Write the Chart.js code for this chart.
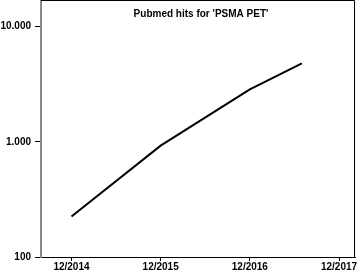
<!DOCTYPE html>
<html>
<head>
<meta charset="utf-8">
<script src="https://cdn.jsdelivr.net/npm/chart.js@4/dist/chart.umd.min.js"></script>
<style>
  html, body { margin: 0; padding: 0; background: #fff; }
  #wrap { width: 357px; height: 273px; }
</style>
</head>
<body>
<div id="wrap"><canvas id="chart" width="357" height="273"></canvas></div>
<script>
// months counted from 12/2014
const months = [0, 12, 24, 31];
const hits = [225, 925, 2850, 4800];

const xTickValues = [0, 12, 24, 36];
const xTickLabels = ['12/2014', '12/2015', '12/2016', '12/2017'];
const yTickValues = [100, 1000, 10000];
const yTickLabels = ['100', '1.000', '10.000'];

const chartTitle = "Pubmed hits for 'PSMA PET'";
const font = { family: 'Liberation Sans, Arial, sans-serif', size: 10, weight: 'bold' };

// title inside the plot + top/right frame lines
const framePlugin = {
    id: 'frame',
    afterDraw(chart) {
        const ctx = chart.ctx;
        const a = chart.chartArea;
        ctx.save();
        ctx.strokeStyle = '#000';
        ctx.lineWidth = 1;
        ctx.beginPath();
        ctx.moveTo(a.left, a.top + 0.5);
        ctx.lineTo(a.right - 0.5, a.top + 0.5);
        ctx.lineTo(a.right - 0.5, a.bottom);
        ctx.stroke();

        ctx.fillStyle = '#000';
        ctx.font = 'bold 10px Liberation Sans, Arial, sans-serif';
        ctx.textAlign = 'center';
        ctx.textBaseline = 'middle';
        ctx.fillText(chartTitle, 201, 14);
        ctx.restore();
    }
};

new Chart(document.getElementById('chart'), {
    type: 'line',
    data: {
        datasets: [{
            data: months.map((m, i) => ({ x: m, y: hits[i] })),
            borderColor: '#000',
            borderWidth: 2,
            pointRadius: 0,
            fill: false,
            tension: 0
        }]
    },
    options: {
        responsive: false,
        animation: false,
        layout: { padding: { top: -1, right: 2, bottom: 0, left: 0 } },
        plugins: {
            legend: { display: false },
            tooltip: { enabled: false }
        },
        scales: {
            x: {
                type: 'linear',
                min: -4.1,
                max: 38.15,
                afterBuildTicks: axis => { axis.ticks = xTickValues.map(v => ({ value: v })); },
                afterFit: axis => { axis.paddingLeft = 0; axis.paddingRight = 0; },
                ticks: {
                    color: '#000',
                    font: font,
                    padding: 0,
                    maxRotation: 0,
                    callback: v => xTickLabels[xTickValues.indexOf(v)]
                },
                grid: {
                    drawOnChartArea: false,
                    tickLength: 4,
                    color: '#000',
                    tickWidth: 1
                },
                border: { color: '#000', width: 1 }
            },
            y: {
                type: 'logarithmic',
                min: 100,
                max: 17000,
                afterBuildTicks: axis => { axis.ticks = yTickValues.map(v => ({ value: v })); },
                afterFit: axis => { axis.width = 41; axis.paddingTop = 0; axis.paddingBottom = 0; },
                ticks: {
                    color: '#000',
                    font: font,
                    padding: 4,
                    callback: v => yTickLabels[yTickValues.indexOf(v)]
                },
                grid: {
                    drawOnChartArea: false,
                    tickLength: 6,
                    color: '#000',
                    tickWidth: 1
                },
                border: { color: '#888', width: 2 }
            }
        }
    },
    plugins: [framePlugin]
});
</script>
</body>
</html>
